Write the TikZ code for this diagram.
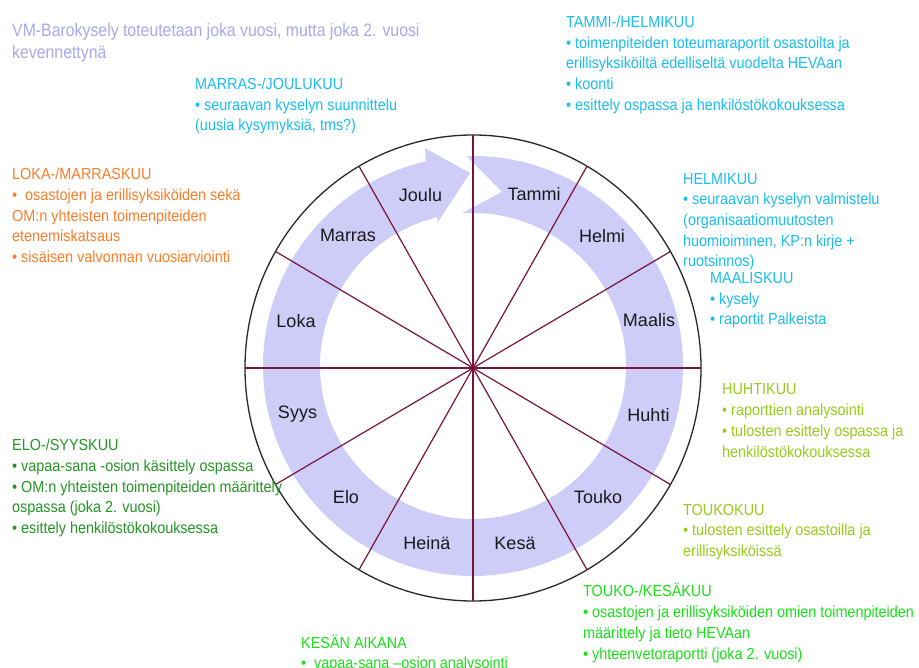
\documentclass[tikz,border=0pt]{standalone}
\usepackage{fontspec}
\setmainfont{Liberation Sans}
\newfontfamily\notefont{Liberation Sans}[FakeStretch=0.9]
\newfontfamily\leadfont{Liberation Sans}[FakeStretch=0.88]

\definecolor{bandfill}{RGB}{205,205,248}
\definecolor{spokered}{RGB}{120,20,60}
\definecolor{rimgray}{RGB}{40,40,40}
\definecolor{monthtext}{RGB}{25,25,25}
\definecolor{leadblue}{RGB}{168,168,240}
\definecolor{cyannote}{RGB}{25,190,240}
\definecolor{orangenote}{RGB}{255,125,40}
\definecolor{limenote}{RGB}{150,205,25}
\definecolor{greennote}{RGB}{25,225,25}
\definecolor{darkgreennote}{RGB}{35,150,35}

\begin{document}
% multi-line notes are placed by the baseline of their last line
\begin{tikzpicture}[x=1pt,y=1pt,
  note/.style={anchor=base west, inner sep=0pt, align=left,
    font=\notefont\fontsize{16}{20.7}\selectfont},
  month/.style={anchor=base, inner sep=0pt, text=monthtext,
    font=\fontsize{18}{21}\selectfont},
  rim/.style={draw=rimgray, line width=1.3pt},
  spoke/.style={draw=spokered, line width=1.2pt},
  band/.style={fill=bandfill}]
\useasboundingbox (0,0) rectangle (919,-668);
\fill[white] (0,0) rectangle (919,-668);

% the year wheel
\coordinate (hub) at (473,-368);

% circular arrow band running clockwise from January round to December
\begin{scope}[shift={(473,-366)}]
  \fill[band] (91.7:210) arc[start angle=91.7, end angle=-257, radius=210]
    -- (102.4:223) -- (90.9:193) -- (104:147.5) -- (103.5:153)
    arc[start angle=-256.5, end angle=94.2, radius=153]
    -- (80.6:176.6) -- cycle;
\end{scope}

\draw[rim] (hub) ellipse [x radius=228, y radius=233];
\foreach \a in {0,30,...,330} {
  \path (hub) ++(\a:228 and 233) coordinate (rim\a);
  \draw[spoke] (hub) -- (rim\a);
}

% month names
\node[month] (tammi)  at (534,-201)   {Tammi};
\node[month] (helmi)  at (602,-243)   {Helmi};
\node[month] (maalis) at (649,-327)   {Maalis};
\node[month] (huhti)  at (648.5,-421) {Huhti};
\node[month] (touko)  at (598,-503)   {Touko};
\node[month] (kesa)   at (515,-549)   {Kesä};
\node[month] (heina)  at (427,-549)   {Heinä};
\node[month] (elo)    at (346,-503)   {Elo};
\node[month] (syys)   at (297.5,-419) {Syys};
\node[month] (loka)   at (296,-328)   {Loka};
\node[month] (marras) at (348,-242)   {Marras};
\node[month] (joulu)  at (420.5,-202) {Joulu};

% notes around the wheel
\node[anchor=base west, inner sep=0pt, align=left, text=leadblue,
  font=\leadfont\fontsize{18}{22}\selectfont] (lead) at (12,-58.5)
  {VM-Barokysely toteutetaan joka vuosi, mutta joka 2. vuosi\\kevennettynä};

\node[note, text=cyannote] (novdec) at (195,-131)
  {MARRAS-/JOULUKUU\\• seuraavan kyselyn suunnittelu\\(uusia kysymyksiä, tms?)};

\node[note, text=cyannote] (janfeb) at (566,-110.3)
  {TAMMI-/HELMIKUU\\• toimenpiteiden toteumaraportit osastoilta ja\\erillisyksiköiltä edelliseltä vuodelta HEVAan\\• koonti\\• esittely ospassa ja henkilöstökokouksessa};

\node[note, text=orangenote] (octnov) at (12,-262.5)
  {LOKA-/MARRASKUU\\•\ \ osastojen ja erillisyksiköiden sekä\\OM:n yhteisten toimenpiteiden\\etenemiskatsaus\\• sisäisen valvonnan vuosiarviointi};

\node[note, text=cyannote] (feb) at (683,-267)
  {HELMIKUU\\• seuraavan kyselyn valmistelu\\(organisaatiomuutosten\\huomioiminen, KP:n kirje +\\ruotsinnos)};

\node[note, text=cyannote] (mar) at (710,-325)
  {MAALISKUU\\• kysely\\• raportit Palkeista};

\node[note, text=limenote] (apr) at (722,-457)
  {HUHTIKUU\\• raporttien analysointi\\• tulosten esittely ospassa ja\\henkilöstökokouksessa};

\node[note, text=limenote] (may) at (683,-556.4)
  {TOUKOKUU\\• tulosten esittely osastoilla ja\\erillisyksiköissä};

\node[note, text=greennote] (mayjun) at (583,-659)
  {TOUKO-/KESÄKUU\\• osastojen ja erillisyksiköiden omien toimenpiteiden\\määrittely ja tieto HEVAan\\• yhteenvetoraportti (joka 2. vuosi)};

\node[note, text=greennote] (summer) at (301,-668.7)
  {KESÄN AIKANA\\•\ \ vapaa-sana –osion analysointi};

\node[note, text=darkgreennote] (augsep) at (12,-533.5)
  {ELO-/SYYSKUU\\• vapaa-sana -osion käsittely ospassa\\• OM:n yhteisten toimenpiteiden määrittely\\ospassa (joka 2. vuosi)\\• esittely henkilöstökokouksessa};
\end{tikzpicture}
\end{document}
